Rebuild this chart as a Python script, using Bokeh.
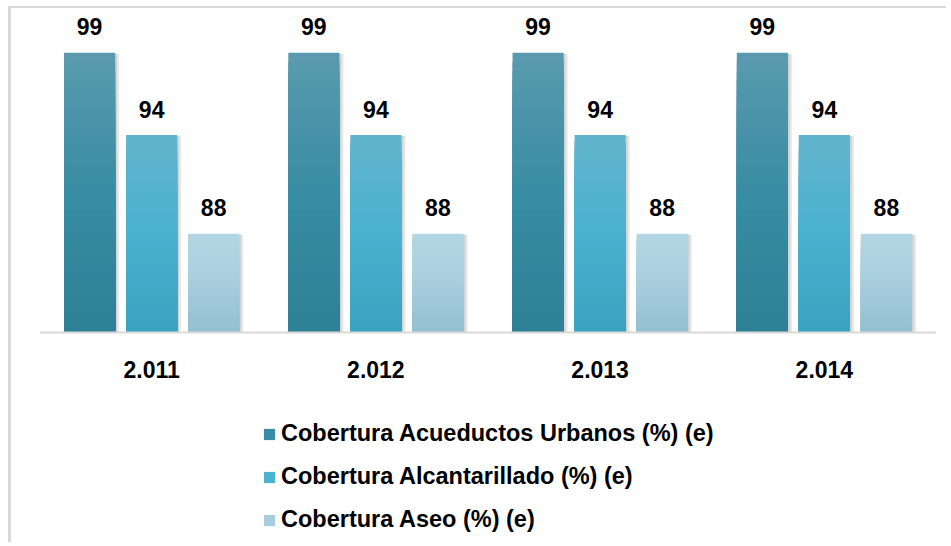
from bokeh.plotting import figure
from bokeh.models import Range1d, FactorRange, Legend, LegendItem, ColumnDataSource
from bokeh.transform import dodge
from bokeh.core.properties import value
from bokeh.embed import file_html
from bokeh.resources import INLINE

# ---- data ----
years = ["2.011", "2.012", "2.013", "2.014"]
acueductos = [99, 99, 99, 99]
alcantarillado = [94, 94, 94, 94]
aseo = [88, 88, 88, 88]
series_names = [
    "Cobertura Acueductos Urbanos (%) (e)",
    "Cobertura Alcantarillado (%) (e)",
    "Cobertura Aseo (%) (e)",
]

# ---- style ----
FONT = "Liberation Sans"
BASE = 82
# gradient stops (bottom -> middle -> top)
stops = [
    [(46, 128, 150), (56, 140, 163), (90, 155, 174)],
    [(56, 162, 192), (74, 178, 207), (98, 180, 205)],
    [(146, 190, 207), (168, 206, 221), (180, 214, 227)],
]
offsets = [-0.2766, 0.0, 0.2766]
BAR_W = 0.228
N = 30


def interp(st, t):
    if t <= 0.5:
        a, b, u = st[0], st[1], t / 0.5
    else:
        a, b, u = st[1], st[2], (t - 0.5) / 0.5
    c = [round(a[i] + (b[i] - a[i]) * u) for i in range(3)]
    return "#%02x%02x%02x" % tuple(c)


p = figure(
    x_range=FactorRange(factors=years, range_padding=0, factor_padding=0),
    y_range=Range1d(69.36, 101.45),
    width=938, height=536,
    output_backend="svg", toolbar_location=None,
    min_border_left=28, min_border_right=13, min_border_top=4, min_border_bottom=4,
    y_axis_location=None,
)
p.outline_line_color = None
p.xgrid.visible = False
p.ygrid.visible = False
p.background_fill_color = "white"
p.border_fill_color = "white"
p.styles = {"margin-top": "6px", "margin-left": "8px",
            "border-top": "2px solid #d9d9d9", "border-left": "3px solid #d9d9d9"}

xa = p.xaxis[0]
xa.fixed_location = BASE
xa.axis_line_color = "#d9d9d9"
xa.axis_line_width = 2
xa.major_tick_line_color = None
xa.minor_tick_line_color = None
xa.major_tick_out = 0
xa.major_label_standoff = 28
xa.major_label_text_font = FONT
xa.major_label_text_font_style = "bold"
xa.major_label_text_font_size = "23px"
xa.major_label_text_color = "black"

legend_renderers = []
for s, vals in enumerate([acueductos, alcantarillado, aseo]):
    off = offsets[s]
    # soft shadow
    sh = ColumnDataSource(dict(x=years, top=[v - 0.05 for v in vals]))
    p.vbar(x=dodge("x", off + 0.012, range=p.x_range), width=BAR_W + 0.012,
           bottom=BASE, top="top", source=sh, fill_color="black",
           fill_alpha=0.09, line_color=None)
    p.vbar(x=dodge("x", off + 0.006, range=p.x_range), width=BAR_W + 0.006,
           bottom=BASE, top="top", source=sh, fill_color="black",
           fill_alpha=0.09, line_color=None)
    mid = None
    # gradient: tallest (top colour) first, shorter ones drawn over it
    for k in range(N - 1, -1, -1):
        col = interp(stops[s], (k + 0.5) / N)
        src = ColumnDataSource(dict(
            x=years,
            top=[BASE + (v - BASE) * (k + 1) / N for v in vals],
        ))
        r = p.vbar(x=dodge("x", off, range=p.x_range), width=BAR_W,
                   bottom=BASE, top="top", source=src,
                   fill_color=col, line_color=None)
        if k == N // 2:
            mid = r
    legend_renderers.append(mid)
    lab = ColumnDataSource(dict(x=years, y=vals, t=[str(v) for v in vals]))
    p.text(x=dodge("x", off, range=p.x_range), y="y", text="t", source=lab,
           text_align="center", text_baseline="alphabetic", y_offset=-26,
           text_font=value(FONT), text_font_style="bold",
           text_font_size="23px", text_color="black")

legend = Legend(
    items=[LegendItem(label=n, renderers=[r]) for n, r in zip(series_names, legend_renderers)],
    location=(223, 7), orientation="vertical",
    glyph_width=14, glyph_height=14, label_standoff=5,
    spacing=16, label_height=22, padding=0, margin=0,
    border_line_color=None, background_fill_alpha=0,
    label_text_font=FONT, label_text_font_style="bold",
    label_text_font_size="23.5px", label_text_color="black",
)
p.add_layout(legend, "center")

open("out.html", "w").write(file_html(p, INLINE))
